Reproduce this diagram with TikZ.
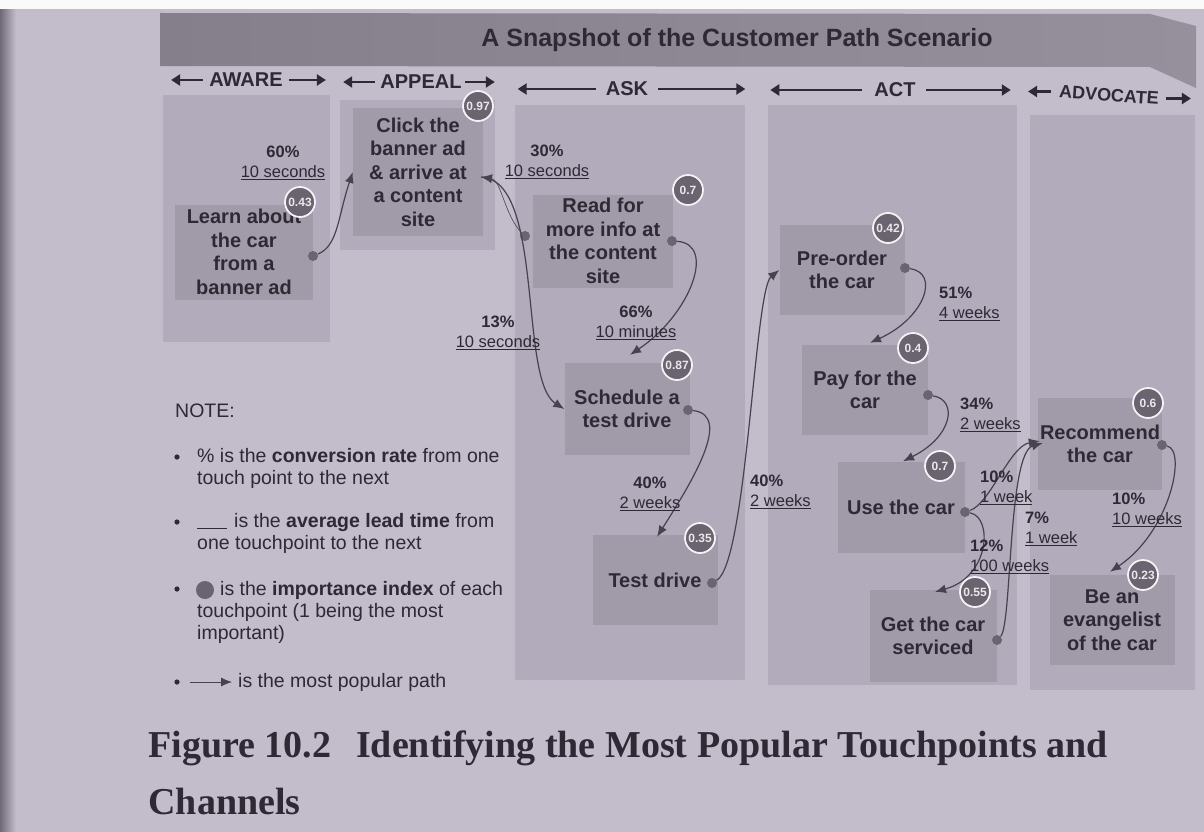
\documentclass[tikz,border=0pt]{standalone}
\usepackage{fontspec}
\setmainfont{Liberation Sans}
\newfontfamily\capfont{Liberation Serif}
\usetikzlibrary{arrows.meta}

\definecolor{pagebg}{RGB}{194,188,203}
\definecolor{edgegray}{RGB}{112,106,120}
\definecolor{panelgray}{RGB}{178,171,187}
\definecolor{boxgray}{RGB}{161,154,169}
\definecolor{inkgray}{RGB}{46,41,52}
\definecolor{idxgray}{RGB}{106,99,112}
\definecolor{linegray}{RGB}{72,65,78}
\definecolor{barleft}{RGB}{132,127,139}
\definecolor{barmid}{RGB}{170,164,175}
\definecolor{barright}{RGB}{150,144,156}

\newcommand\ratelbl[2]{\textbf{#1}\\\underline{#2}}

\tikzset{
  panel/.style={fill=panelgray},
  tpbox/.style={fill=boxgray, inner sep=0pt, align=center, text=inkgray,
    font=\fontsize{20}{23.5}\selectfont\bfseries},
  idx/.style={circle, fill=idxgray, draw=white!80!pagebg, line width=1.8pt,
    minimum size=30pt, inner sep=0pt, text=white!85!idxgray,
    font=\fontsize{12}{12}\selectfont\bfseries},
  dot/.style={circle, fill=idxgray, minimum size=10pt, inner sep=0pt},
  flow/.style={draw=linegray, line width=1.2pt, -{Latex[length=11pt,width=9pt]}},
  rate/.style={align=center, text=inkgray, inner sep=0pt,
    font=\fontsize{16.5}{19.5}\selectfont},
  ratel/.style={rate, align=left, anchor=west},
  phase/.style={text=inkgray, inner sep=0pt, font=\fontsize{20}{20}\selectfont\bfseries},
  phasearrow/.style={draw=inkgray, line width=2.6pt, -{Triangle[length=9pt,width=11pt]}},
  note/.style={anchor=west, align=left, text=inkgray, inner sep=0pt,
    font=\fontsize{19.5}{22}\selectfont},
}

\begin{document}
\begin{tikzpicture}[x=1pt,y=-1pt]
\useasboundingbox (0,0) rectangle (1204,832);

% page
\fill[pagebg] (0,0) rectangle (1204,832);
\shade[left color=edgegray, right color=pagebg] (0,9) rectangle (16,832);
\fill[white!92!pagebg] (0,0) rectangle (1204,9);

% title bar
\shade[left color=barleft, middle color=barmid, right color=barright]
  (160,13) -- (1150,14) -- (1196,26) -- (1196,88) -- (1150,67) -- (160,66) -- cycle;
\node[text=inkgray, font=\fontsize{25}{25}\selectfont\bfseries] (title) at (737,40)
  {A Snapshot of the Customer Path Scenario};

% phases
\node[phase] (aware) at (246,80) {AWARE};
\draw[phasearrow] ([xshift=-6pt]aware.west) -- ([xshift=-38pt]aware.west);
\draw[phasearrow] ([xshift=6pt]aware.east) -- ([xshift=43pt]aware.east);
\node[phase] (appeal) at (421,82) {APPEAL};
\draw[phasearrow] ([xshift=-5pt]appeal.west) -- ([xshift=-37pt]appeal.west);
\draw[phasearrow] ([xshift=3pt]appeal.east) -- ([xshift=33pt]appeal.east);
\node[phase] (ask) at (627,89) {ASK};
\draw[phasearrow] ([xshift=-10pt]ask.west) -- ([xshift=-88pt]ask.west);
\draw[phasearrow] ([xshift=10pt]ask.east) -- ([xshift=97pt]ask.east);
\node[phase] (act) at (895,90) {ACT};
\draw[phasearrow] ([xshift=-12pt]act.west) -- ([xshift=-104pt]act.west);
\draw[phasearrow] ([xshift=10pt]act.east) -- ([xshift=95pt]act.east);
\node[phase, rotate=-4, font=\fontsize{18}{18}\selectfont\bfseries] (advocate) at (1109,95) {ADVOCATE};
\draw[phasearrow] ([xshift=-8pt]advocate.west) -- ([xshift=-31pt]advocate.west);
\draw[phasearrow] ([xshift=7pt]advocate.east) -- ([xshift=32pt]advocate.east);

% stage panels
\fill[panel] (163,95) rectangle (330,342);
\fill[panel] (340,100) rectangle (495,250);
\fill[panel] (515,105) rectangle (745,680);
\fill[panel] (768,105) rectangle (1017,685);
\fill[panel] (1030,115) rectangle (1195,690);

% touchpoints
\node[tpbox, minimum width=138pt, minimum height=95pt] (learn) at (244,252) {Learn about\\the car\\from a\\banner ad};
\node[tpbox, minimum width=130pt, minimum height=127pt] (click) at (418,172) {Click the\\banner ad\\\& arrive at\\a content\\site};
\node[tpbox, minimum width=140pt, minimum height=93pt] (read) at (603,241) {Read for\\more info at\\the content\\site};
\node[tpbox, minimum width=125pt, minimum height=92pt] (sched) at (627,409) {Schedule a\\test drive};
\node[tpbox, minimum width=125pt, minimum height=90pt] (test) at (655,580) {Test drive};
\node[tpbox, minimum width=125pt, minimum height=90pt] (pre) at (842,270) {Pre-order\\the car};
\node[tpbox, minimum width=126pt, minimum height=90pt] (pay) at (865,390) {Pay for the\\car};
\node[tpbox, minimum width=127pt, minimum height=91pt] (use) at (901,507) {Use the car};
\node[tpbox, minimum width=127pt, minimum height=92pt] (serv) at (933,636) {Get the car\\serviced};
\node[tpbox, minimum width=124pt, minimum height=92pt] (rec) at (1100,444) {Recommend\\the car};
\node[tpbox, minimum width=125pt, minimum height=90pt] (evan) at (1112,620) {Be an\\evangelist\\of the car};

% path start dots
\node[dot] (learn-d) at (313,256) {};
\node[dot] (read-l) at (525,236) {};
\node[dot] (read-d) at (672,241) {};
\node[dot] (sched-d) at (688,410) {};
\node[dot] (test-d) at (712,583) {};
\node[dot] (pre-d) at (905,268) {};
\node[dot] (pay-d) at (928,395) {};
\node[dot] (use-d) at (965,512) {};
\node[dot] (serv-d) at (997,640) {};
\node[dot] (rec-d) at (1162,445) {};
\coordinate (click-in) at (481,177);

% paths
\draw[flow] (learn-d) .. controls +(25,-10) and +(-15,45) .. (click.west);
\draw[flow, line width=0.6pt] (read-l) .. controls +(-20,-20) and +(20,3) .. (click-in);
\draw[flow] (click-in) .. controls +(64,3) and +(-46,-29) .. (sched.west);
\draw[flow] (read-d) .. controls +(45,3) and +(60,-40) .. ([shift={(3,-8)}]sched.north);
\draw[flow] (sched-d) .. controls +(45,5) and +(35,-55) .. ([shift={(2,2)}]test.north);
\draw[flow] (test-d) .. controls +(35,-20) and +(-25,20) .. (pre.west);
\draw[flow] (pre-d) .. controls +(35,5) and +(55,-25) .. ([shift={(5,-2)}]pay.north);
\draw[flow] (pay-d) .. controls +(30,5) and +(50,-25) .. ([shift={(2,0)}]use.north);
\draw[flow] (use-d) .. controls +(25,-8) and +(-30,5) .. ([shift={(2,-3)}]rec.west);
\draw[flow] (use-d) .. controls +(28,5) and +(55,-15) .. ([shift={(2,2)}]serv.north);
\draw[flow] (serv-d) .. controls +(15,-15) and +(-35,10) .. ([shift={(5,-1)}]rec.west);
\draw[flow] (rec-d) .. controls +(25,5) and +(60,-40) .. ([shift={(-2,-3)}]evan.north);

% importance index
\node[idx] (learn-i) at (300,202) {0.43};
\node[idx] (click-i) at (478,106) {0.97};
\node[idx] (read-i) at (688,190) {0.7};
\node[idx] (sched-i) at (677,365) {0.87};
\node[idx] (test-i) at (700,538) {0.35};
\node[idx] (pre-i) at (888,228) {0.42};
\node[idx] (pay-i) at (913,348) {0.4};
\node[idx] (use-i) at (940,466) {0.7};
\node[idx] (serv-i) at (975,592) {0.55};
\node[idx] (rec-i) at (1148,403) {0.6};
\node[idx] (evan-i) at (1143,575) {0.23};

% conversion rates and lead times
\node[rate] (r-learn) at (283,163) {\ratelbl{60\%}{10 seconds}};
\node[rate] (r-click) at (547,162) {\ratelbl{30\%}{10 seconds}};
\node[rate] (r-skip) at (498,333) {\ratelbl{13\%}{10 seconds}};
\node[rate] (r-read) at (636,323) {\ratelbl{66\%}{10 minutes}};
\node[rate] (r-sched) at (650,494) {\ratelbl{40\%}{2 weeks}};
\node[ratel] (r-test) at (750,492) {\ratelbl{40\%}{2 weeks}};
\node[ratel] (r-pre) at (939,304) {\ratelbl{51\%}{4 weeks}};
\node[ratel] (r-pay) at (960,415) {\ratelbl{34\%}{2 weeks}};
\node[ratel] (r-use) at (980,488) {\ratelbl{10\%}{1 week}};
\node[ratel] (r-serv) at (970,557) {\ratelbl{12\%}{100 weeks}};
\node[ratel] (r-back) at (1025,529) {\ratelbl{7\%}{1 week}};
\node[ratel] (r-rec) at (1112,510) {\ratelbl{10\%}{10 weeks}};

% note
\node[note] (note-head) at (175,411) {NOTE:};
\foreach \y in {457,522,589,682}
  \fill[inkgray] (177,\y) circle (2.6);
\node[note] (note-a) at (197,468) {\% is the \textbf{conversion rate} from one\\touch point to the next};
\node[note] (note-b) at (197,533) {\underline{\hspace{30pt}}\hspace{7pt}is the \textbf{average lead time} from\\one touchpoint to the next};
\node[dot, minimum size=18pt] (note-dot) at (205,590) {};
\node[note] (note-c) at (197,612) {\hspace{23pt}is the \textbf{importance index} of each\\touchpoint (1 being the most\\important)};
\coordinate (legend-a) at (190,682);
\coordinate (legend-b) at (232,682);
\draw[flow, line width=0.8pt] (legend-a) -- (legend-b);
\node[note] (note-d) at (238,682) {is the most popular path};

% caption
\node[anchor=base west, text=inkgray, font=\capfont\bfseries\fontsize{38}{40}\selectfont] (caption-a) at (145,757)
  {Figure 10.2\hspace{0.4em} Identifying the Most Popular Touchpoints and};
\node[anchor=base west, text=inkgray, font=\capfont\bfseries\fontsize{38}{40}\selectfont] (caption-b) at (145,814)
  {Channels};
\end{tikzpicture}
\end{document}
